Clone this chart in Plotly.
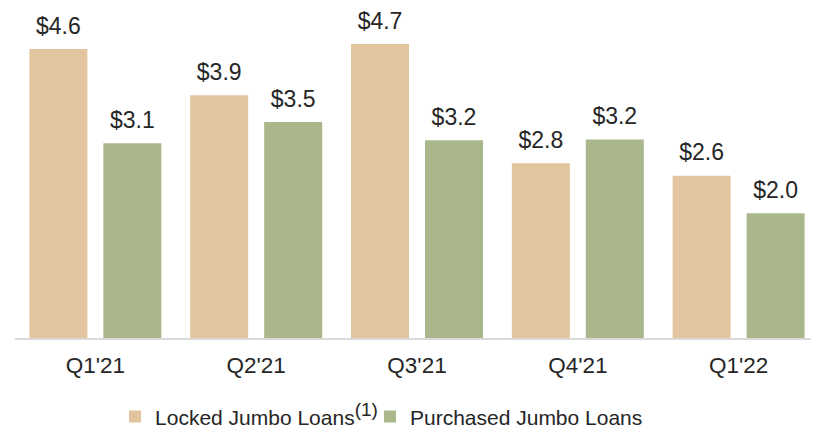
import plotly.graph_objects as go

quarters = ["Q1'21", "Q2'21", "Q3'21", "Q4'21", "Q1'22"]
locked = [4.63, 3.89, 4.71, 2.80, 2.60]
purchased = [3.12, 3.46, 3.17, 3.18, 2.00]
locked_labels = ["$4.6", "$3.9", "$4.7", "$2.8", "$2.6"]
purchased_labels = ["$3.1", "$3.5", "$3.2", "$3.2", "$2.0"]

FONT = "Liberation Sans, Arial, sans-serif"
TXT = "#262626"
TAN = "#E2C59E"
GREEN = "#A9B78B"

fig = go.Figure()
fig.add_trace(go.Bar(x=quarters, y=locked,
                     name="Locked Jumbo Loans<sup><span style='font-size:19px'>(1)</span></sup>",
                     marker=dict(color=TAN, line=dict(width=0)), hoverinfo="skip",
                     legend="legend"))
fig.add_trace(go.Bar(x=quarters, y=purchased, name="Purchased Jumbo Loans",
                     marker=dict(color=GREEN, line=dict(width=0)), hoverinfo="skip",
                     legend="legend2"))
for vals, labs in [(locked, locked_labels), (purchased, purchased_labels)]:
    fig.add_trace(go.Scatter(x=quarters, y=vals, text=labs, mode="markers+text",
                             textposition="top center",
                             textfont=dict(size=23, color=TXT, family=FONT),
                             marker=dict(size=14, opacity=0, color="white"),
                             showlegend=False, hoverinfo="skip", cliponaxis=False))

legend_style = dict(orientation="h", xanchor="left", y=-0.239, yanchor="middle",
                    font=dict(size=21, color=TXT, family=FONT), itemwidth=30,
                    bgcolor="rgba(0,0,0,0)")

# page body has an 8px default margin, so the figure is sized to fit the window
fig.update_layout(
    width=811, height=424,
    margin=dict(l=7, r=0, t=0, b=94, autoexpand=False),
    paper_bgcolor="white", plot_bgcolor="white",
    font=dict(family=FONT, color=TXT),
    barmode="group", bargap=0.08, bargroupgap=0.216,
    scattermode="group", scattergap=0.08,
    showlegend=True,
    legend=dict(x=0.1244, **legend_style),
    legend2=dict(x=0.4415, **legend_style),
    xaxis=dict(showline=True, linecolor="#D9D9D9", linewidth=2, ticks="",
               range=[-0.5, 4.5], automargin=False,
               tickfont=dict(size=22.5, color=TXT, family=FONT),
               ticklabelstandoff=6, showgrid=False, zeroline=False, fixedrange=True),
    yaxis=dict(range=[0, 5.288], visible=False, automargin=False,
               showgrid=False, zeroline=False, fixedrange=True),
)

fig.write_html("out.html")
